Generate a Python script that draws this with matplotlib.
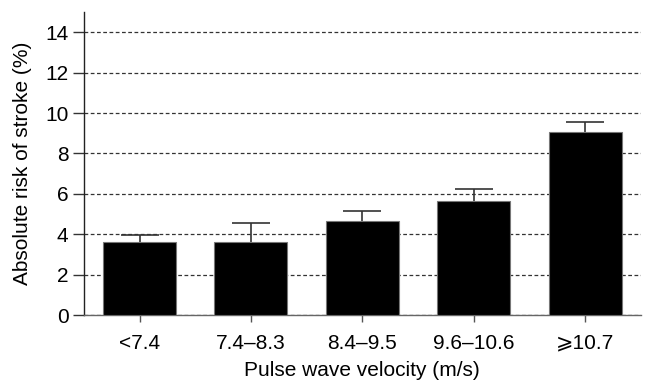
import matplotlib
matplotlib.use("Agg")
import matplotlib.pyplot as plt

# Absolute stroke risk by pulse wave velocity group
categories = ["<7.4", "7.4\u20138.3", "8.4\u20139.5", "9.6\u201310.6", "\u2a7e10.7"]
risk = [3.6, 3.6, 4.66, 5.66, 9.04]
upper_err = [0.38, 0.96, 0.51, 0.59, 0.54]

plt.rcParams['font.family'] = ['Liberation Sans', 'DejaVu Sans']
plt.rcParams['font.size'] = 15

fig = plt.figure(figsize=(6.5, 3.8), dpi=100)
ax = fig.add_axes([0.129, 0.171, 0.857, 0.797])

x = list(range(len(categories)))
ax.bar(x, risk, width=0.655, color='black', edgecolor='#777777', linewidth=0.8, zorder=3)
eb = ax.errorbar(x, risk, yerr=[[0] * len(risk), upper_err], fmt='none',
                 ecolor='#333333', elinewidth=1.2, capsize=13.5, capthick=1.2, zorder=2)

# only the upper cap is shown
for cap in eb.lines[1]:
    if list(cap.get_ydata()) == risk:
        cap.set_visible(False)

ax.set_xlim(-0.5, 4.5)
ax.set_ylim(0, 15)
ax.set_yticks(range(0, 15, 2))
ax.set_xticks(x)
ax.set_xticklabels(categories)

# dashed grid at each y tick
ax.yaxis.grid(True, linestyle=(0, (3, 2)), color='#333333', linewidth=0.9, zorder=1)
ax.set_axisbelow(True)

for side in ['top', 'right']:
    ax.spines[side].set_visible(False)
ax.spines['left'].set_color('#222222')
ax.spines['bottom'].set_color('#666666')
ax.spines['left'].set_linewidth(1.0)
ax.spines['bottom'].set_linewidth(1.0)

ax.tick_params(axis='y', direction='out', length=8, width=1.0, color='#333333', pad=3)
ax.tick_params(axis='x', direction='out', length=5, width=1.0, color='#555555', pad=8.5)

ax.set_xlabel("Pulse wave velocity (m/s)", labelpad=6)
ax.set_ylabel("Absolute risk of stroke (%)", labelpad=9.5)

plt.savefig("out.png", dpi=100)
plt.close()
